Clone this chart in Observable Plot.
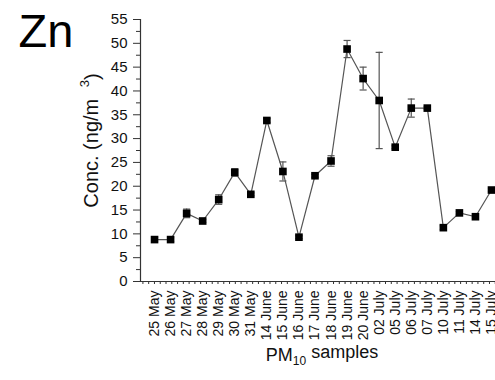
<!DOCTYPE html>
<html>
<head>
<meta charset="utf-8">
<script src="https://cdn.jsdelivr.net/npm/d3@7"></script>
<script src="https://cdn.jsdelivr.net/npm/@observablehq/plot@0.6"></script>
<style>
  html, body { margin: 0; padding: 0; background: #fff; }
  #chart { width: 495px; height: 380px; overflow: hidden; }
</style>
</head>
<body>
<div id="chart"></div>
<script>
const dates = ["25 May","26 May","27 May","28 May","29 May","30 May","31 May",
  "14 June","15 June","16 June","17 June","18 June","19 June","20 June",
  "02 July","05 July","06 July","07 July","10 July","11 July","14 July","15 July"];
const zn = [8.8, 8.8, 14.3, 12.7, 17.2, 22.9, 18.3, 33.8, 23.1, 9.3, 22.2, 25.3,
  48.8, 42.6, 38.0, 28.2, 36.4, 36.4, 11.3, 14.4, 13.6, 19.2];
const err = [0.4, 0.4, 0.9, 0.3, 1.0, 0.8, 0.3, 0.4, 2.0, 0.3, 0.3, 1.1,
  1.8, 2.4, 10.1, 0.3, 1.9, 0.3, 0.4, 0.3, 0.3, 0.3];
const yTicks = [0, 5, 10, 15, 20, 25, 30, 35, 40, 45, 50, 55];

const data = dates.map((d, i) => ({i, date: d, v: zn[i], e: err[i]}));
const xDomain = [-0.875, 21.25];
const yMinor = yTicks.slice(0, -1).map(t => t + 2.5);
const xMinor = d3.range(xDomain[0] + 0.15, xDomain[1], 0.36);
const font = "'Liberation Sans', Arial, sans-serif";
const axisColor = "#333";
const lineColor = "#555";

const plot = Plot.plot({
  width: 495,
  height: 380,
  marginLeft: 140,
  marginRight: 0,
  marginTop: 19,
  marginBottom: 99,
  style: {fontFamily: font, background: "#fff", color: "#111", overflow: "visible"},
  x: {domain: xDomain, axis: null},
  y: {domain: [0, 55], axis: null},
  marks: [
    Plot.axisY({ticks: yTicks, tickSize: 7, tickPadding: 6, fontSize: 15, stroke: axisColor, label: null}),
    Plot.axisY({ticks: yMinor, tickSize: 4, text: null, stroke: axisColor, label: null}),
    Plot.axisX({ticks: xMinor, tickSize: 3, text: null, stroke: axisColor, label: null}),
    Plot.axisX({ticks: d3.range(dates.length), tickFormat: i => dates[i], tickSize: 0,
      tickPadding: 9, tickRotate: -90, fontSize: 14, label: null}),
    Plot.ruleX([xDomain[0]], {stroke: axisColor, strokeWidth: 1.2}),
    Plot.ruleY([0], {stroke: axisColor, strokeWidth: 1.2}),
    Plot.line(data, {x: "i", y: "v", stroke: lineColor, strokeWidth: 1.2}),
    Plot.ruleX(data, {x: "i", y1: d => d.v - d.e, y2: d => d.v + d.e, stroke: lineColor, strokeWidth: 1.2}),
    Plot.link(data, {x1: d => d.i - 0.22, x2: d => d.i + 0.22, y1: d => d.v + d.e, y2: d => d.v + d.e, stroke: lineColor, strokeWidth: 1.2}),
    Plot.link(data, {x1: d => d.i - 0.22, x2: d => d.i + 0.22, y1: d => d.v - d.e, y2: d => d.v - d.e, stroke: lineColor, strokeWidth: 1.2}),
    Plot.dot(data, {x: "i", y: "v", symbol: "square", r: 4.3, fill: "#000", stroke: "none"}),
    Plot.text(["Zn"], {frameAnchor: "top-left", textAnchor: "start", lineAnchor: "top", dx: -122, dy: -6, fontSize: 47, fill: "#000"}),
    Plot.text(["PM10 samples"], {frameAnchor: "bottom", textAnchor: "middle", dx: 4, dy: 79, fontSize: 18, fill: "#111"}),
    Plot.text(["Conc. (ng/m 3)"], {frameAnchor: "left", textAnchor: "middle", rotate: -90, dx: -49, dy: -10, fontSize: 20, fill: "#111"})
  ]
});

// subscript / superscript formatting of axis labels
const texts = d3.select(plot).selectAll("text");
const xl = texts.filter(function() { return this.textContent === "PM10 samples"; });
xl.text(null);
xl.append("tspan").text("PM");
xl.append("tspan").attr("font-size", 12).attr("dy", "0.35em").text("10");
xl.append("tspan").attr("dy", "-0.35em").text(" samples");
const yl = texts.filter(function() { return this.textContent === "Conc. (ng/m 3)"; });
yl.text(null);
yl.append("tspan").text("Conc. (ng/m ");
yl.append("tspan").attr("font-size", 13).attr("dx", 6).attr("dy", "-0.7em").text("3");
yl.append("tspan").attr("dy", "0.5em").text(")");

document.getElementById("chart").appendChild(plot);
</script>
</body>
</html>
